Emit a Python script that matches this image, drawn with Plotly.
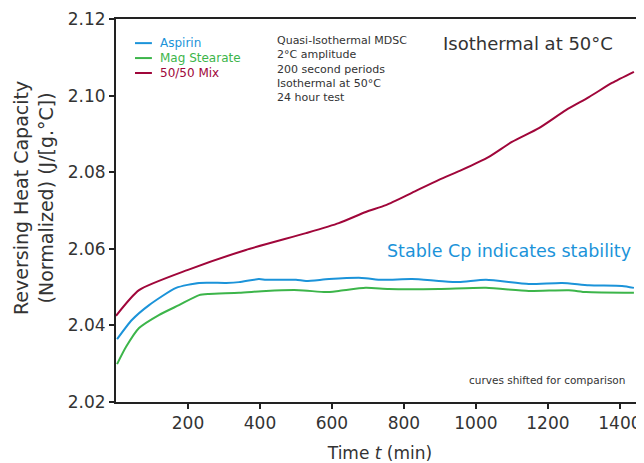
import plotly.graph_objects as go

# ---- data ----
t_mix = [0, 64, 200, 361, 528, 619, 694, 750, 822, 897, 961, 1036, 1100, 1175, 1250, 1314, 1378, 1439]
cp_mix = [2.0425, 2.0492, 2.0545, 2.0597, 2.0641, 2.0667, 2.0696, 2.0714, 2.0746, 2.0780,
          2.0806, 2.0840, 2.0879, 2.0915, 2.0962, 2.0996, 2.1033, 2.1062]

t_asp = [3, 44, 92, 167, 231, 306, 342, 397, 417, 500, 528, 592, 683, 739, 822, 897, 953,
         1028, 1147, 1239, 1314, 1406, 1439]
cp_asp = [2.0364, 2.0414, 2.0453, 2.0498, 2.0511, 2.0511, 2.0513, 2.0521, 2.0519, 2.0519,
          2.0516, 2.0521, 2.0524, 2.0519, 2.0521, 2.0516, 2.0513, 2.0519, 2.0508, 2.0511,
          2.0505, 2.0503, 2.0498]

t_mag = [3, 28, 64, 119, 175, 231, 258, 342, 417, 508, 583, 619, 694, 758, 897, 1028,
         1147, 1258, 1306, 1439]
cp_mag = [2.0299, 2.0344, 2.0393, 2.0427, 2.0453, 2.0479, 2.0482, 2.0485, 2.0490, 2.0492,
          2.0487, 2.0490, 2.0498, 2.0495, 2.0495, 2.0498, 2.0490, 2.0492, 2.0487, 2.0485]

x_ticks = [200, 400, 600, 800, 1000, 1200, 1400]
y_ticks = [2.02, 2.04, 2.06, 2.08, 2.10, 2.12]

series_names = ["Aspirin", "Mag Stearate", "50/50 Mix"]
series_colors = ["#1b93d9", "#3cb54a", "#a0063a"]
series_x = [t_asp, t_mag, t_mix]
series_y = [cp_asp, cp_mag, cp_mix]

TXT = "#333333"
FONT = "DejaVu Sans"

fig = go.Figure()
for name, xs, ys, col in zip(series_names, series_x, series_y, series_colors):
    fig.add_trace(go.Scatter(
        x=xs, y=ys, mode="lines", name=name,
        line=dict(color=col, width=2, shape="spline", smoothing=0.6),
    ))

# page body has an 8px default margin; size/margins compensate so the plot
# area lands at x 116..644, y 19..402 in the 644x463 window
fig.update_layout(
    width=636, height=455,
    margin=dict(l=108, r=0, t=11, b=61),
    paper_bgcolor="white", plot_bgcolor="white",
    font=dict(family=FONT, color=TXT, size=17),
    showlegend=False,
    xaxis=dict(range=[0, 1467], tickvals=x_ticks, showgrid=False, zeroline=False,
               automargin=False,
               showline=True, linecolor="#222", linewidth=2, mirror=True,
               ticks="outside", ticklen=5, tickcolor="#222", tickwidth=2,
               tickfont=dict(size=17, color=TXT, family=FONT),
               title=dict(text="Time <i>t</i> (min)", font=dict(size=17, color=TXT, family=FONT),
                          standoff=17)),
    yaxis=dict(range=[2.02, 2.12], tickvals=y_ticks, tickformat=".2f", showgrid=False,
               zeroline=False, automargin=False, showline=True, linecolor="#222", linewidth=2,
               ticks="outside", ticklen=5, tickcolor="#222", tickwidth=2,
               tickfont=dict(size=17, color=TXT, family=FONT)),
)

# y-axis title (placed slightly above centre, as in the reference)
fig.add_annotation(xref="paper", yref="paper", x=-0.155, y=0.533, xanchor="center",
                   yanchor="middle", textangle=-90, showarrow=False,
                   text="Reversing Heat Capacity<br>(Normalized) (J/[g.°C])",
                   font=dict(size=19, color=TXT, family=FONT))

# manual legend (short swatches, tight spacing as in the reference)
leg_y = [0.937, 0.898, 0.859]
for name, col, ly in zip(series_names, series_colors, leg_y):
    fig.add_shape(type="line", xref="paper", yref="paper", x0=0.036, x1=0.068, y0=ly, y1=ly,
                  line=dict(color=col, width=2))
    fig.add_annotation(xref="paper", yref="paper", x=0.079, y=ly, xanchor="left", yanchor="middle",
                       showarrow=False, text=name, font=dict(size=12, color=col, family=FONT))

fig.add_annotation(xref="paper", yref="paper", x=0.301, y=0.965, xanchor="left", yanchor="top",
                   align="left", showarrow=False,
                   text="Quasi-Isothermal MDSC<br>2°C amplitude<br>200 second periods<br>Isothermal at 50°C<br>24 hour test",
                   font=dict(size=11, color=TXT, family=FONT))
fig.add_annotation(xref="paper", yref="paper", x=0.945, y=0.937, xanchor="right", yanchor="middle",
                   showarrow=False, text="Isothermal at 50°C",
                   font=dict(size=18, color=TXT, family=FONT))
fig.add_annotation(xref="paper", yref="paper", x=0.979, y=0.394, xanchor="right", yanchor="middle",
                   showarrow=False, text="Stable Cp indicates stability",
                   font=dict(size=17.5, color=series_colors[0], family=FONT))
fig.add_annotation(xref="paper", yref="paper", x=0.968, y=0.057, xanchor="right", yanchor="middle",
                   showarrow=False, text="curves shifted for comparison",
                   font=dict(size=10.5, color=TXT, family=FONT))

fig.write_html("out.html")
